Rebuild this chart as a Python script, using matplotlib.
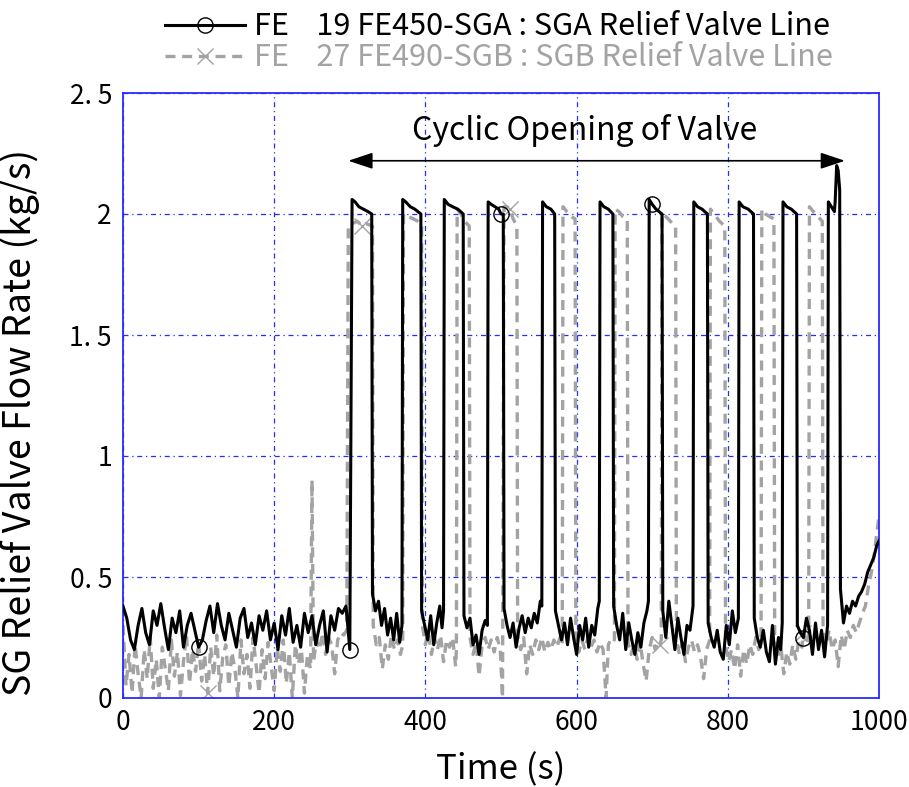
import numpy as np
import matplotlib
matplotlib.use("Agg")
import matplotlib.pyplot as plt

plt.rcParams['font.family'] = ['Noto Sans CJK JP', 'DejaVu Sans']

# FE 19 FE450-SGA (black solid, open circles)
sga_t = [0, 5, 10, 15, 20, 25, 30, 35, 40, 45, 50, 55, 60, 65, 70, 75, 80, 85, 90, 95,
         100, 105, 110, 115, 120, 125, 130, 135, 140, 145, 150, 155, 160, 165, 170, 175, 180, 185, 190, 195,
         200, 205, 210, 215, 220, 225, 230, 235, 240, 245, 250, 255, 260, 265, 270, 275, 280, 285, 290, 295,
         300, 303, 307, 312, 318, 324, 329,
         330, 334, 338, 342, 346, 350, 354, 358, 362, 366, 369,
         370, 374, 380, 386, 394,
         395, 399, 403, 407, 411, 415, 419, 422, 424,
         425, 430, 436, 443, 450,
         451, 455, 459, 463, 467, 471, 475, 479, 482,
         483, 487, 492, 497, 500, 503,
         504, 508, 512, 516, 520, 524, 528, 532, 536, 540, 544, 548, 552, 554,
         555, 560, 566, 571,
         572, 576, 580, 584, 588, 592, 596, 600, 604, 608, 612, 616, 620, 624, 628, 630,
         631, 636, 642, 648,
         649, 653, 657, 661, 665, 669, 673, 677, 681, 685, 689, 693, 695,
         696, 700, 705, 709, 713,
         714, 718, 722, 726, 730, 734, 738, 742, 746, 750, 754,
         755, 760, 766, 773,
         774, 778, 782, 786, 790, 794, 798, 802, 806, 810, 814,
         815, 820, 827, 834,
         835, 839, 843, 847, 851, 855, 859, 863, 867, 870, 872,
         873, 878, 884, 891,
         892, 896, 900, 904, 908, 912, 916, 920, 924, 928, 932,
         933, 937, 941, 942, 944, 946, 948,
         949, 953, 957, 961, 965, 969, 973, 977, 981, 985, 989, 993, 997, 1000]
sga_v = [0.38, 0.33, 0.24, 0.20, 0.30, 0.37, 0.27, 0.22, 0.36, 0.30, 0.39, 0.29, 0.20, 0.33, 0.27, 0.36, 0.21, 0.30, 0.35, 0.28,
         0.21, 0.24, 0.32, 0.38, 0.27, 0.39, 0.30, 0.24, 0.35, 0.28, 0.21, 0.33, 0.37, 0.25, 0.31, 0.22, 0.34, 0.28, 0.36, 0.24,
         0.31, 0.20, 0.34, 0.26, 0.37, 0.23, 0.30, 0.21, 0.35, 0.27, 0.34, 0.22, 0.30, 0.36, 0.19, 0.34, 0.28, 0.37, 0.35, 0.38,
         0.20, 2.06, 2.05, 2.03, 2.02, 2.01, 2.00,
         0.43, 0.36, 0.40, 0.30, 0.37, 0.26, 0.33, 0.24, 0.35, 0.23, 0.30,
         2.06, 2.05, 2.03, 2.02, 2.00,
         0.36, 0.30, 0.24, 0.34, 0.22, 0.31, 0.38, 0.29, 0.36,
         2.06, 2.04, 2.03, 2.02, 2.00,
         0.34, 0.29, 0.33, 0.22, 0.26, 0.18, 0.28, 0.32, 0.30,
         2.05, 2.04, 2.03, 2.02, 2.00, 2.00,
         0.37, 0.30, 0.25, 0.31, 0.21, 0.29, 0.34, 0.27, 0.33, 0.29, 0.35, 0.31, 0.40, 0.38,
         2.05, 2.03, 2.02, 2.00,
         0.36, 0.30, 0.24, 0.31, 0.22, 0.33, 0.25, 0.18, 0.30, 0.24, 0.33, 0.21, 0.30, 0.26, 0.37, 0.40,
         2.05, 2.03, 2.02, 2.00,
         0.38, 0.30, 0.24, 0.35, 0.20, 0.31, 0.24, 0.18, 0.27, 0.21, 0.31, 0.36, 0.40,
         2.06, 2.04, 2.02, 2.01, 2.00,
         0.36, 0.25, 0.40, 0.30, 0.20, 0.33, 0.25, 0.18, 0.30, 0.28, 0.38,
         2.05, 2.03, 2.02, 2.00,
         0.31, 0.25, 0.21, 0.28, 0.19, 0.16, 0.30, 0.22, 0.36, 0.27, 0.33,
         2.05, 2.03, 2.02, 2.00,
         0.33, 0.25, 0.21, 0.28, 0.19, 0.15, 0.30, 0.14, 0.25, 0.20, 0.31,
         2.05, 2.03, 2.02, 2.00,
         0.30, 0.27, 0.25, 0.33, 0.28, 0.18, 0.31, 0.20, 0.28, 0.17, 0.30,
         2.05, 2.03, 2.01, 2.05, 2.20, 2.18, 2.10,
         0.45, 0.31, 0.38, 0.35, 0.40, 0.38, 0.42, 0.44, 0.47, 0.52, 0.55, 0.58, 0.63, 0.65]
sga_mark_t = [100, 300, 500, 700, 900]

# FE 27 FE490-SGB (gray dashed, x markers)
sgb_t = [0, 4, 8, 12, 16, 20, 24, 28, 32, 36, 40, 44, 48, 52, 56, 60, 64, 68, 72, 76,
         80, 84, 88, 92, 96, 100, 104, 108, 112, 116, 120, 124, 128, 132, 136, 140, 144, 148, 152, 156,
         160, 164, 168, 172, 176, 180, 184, 188, 192, 196, 200, 204, 208, 212, 216, 220, 224, 228, 232, 236,
         240, 244, 248, 250, 252, 256, 260, 264, 268, 272, 276, 280, 284, 288, 292, 296,
         298, 303, 310, 316, 322, 330,
         331, 335, 339, 343, 347, 351, 355, 359, 363, 367, 370,
         371, 377, 384, 390, 395,
         396, 400, 404, 408, 412, 416, 420, 424, 428, 432, 436, 440, 441,
         442, 447, 452, 458,
         459, 463, 467, 471, 475, 479, 483, 487, 491, 495, 499, 502,
         504, 508, 512, 516, 521,
         522, 526, 530, 534, 538, 542, 546, 550, 554, 558, 562, 566, 570, 574, 578, 581,
         582, 587, 592, 598,
         599, 603, 607, 611, 615, 619, 623, 627, 631, 635, 639, 642, 646, 650,
         651, 656, 661, 667,
         668, 672, 676, 680, 684, 688, 692, 696, 700, 704, 708, 710, 712,
         713, 718, 724, 731,
         732, 736, 740, 744, 748, 752, 756, 760, 764, 768, 772, 776,
         777, 782, 789, 796,
         797, 801, 805, 809, 813, 817, 821, 825, 829, 833, 837, 841, 844,
         845, 850, 855, 861,
         862, 866, 870, 874, 878, 882, 886, 890, 894, 898, 900, 904, 907,
         908, 913, 919, 925,
         926, 930, 934, 938, 942, 946, 950, 954, 958, 962, 966, 970, 974, 978, 982, 986, 990, 994, 997, 1000]
sgb_v = [0.30, 0.05, 0.18, 0.02, 0.22, 0.10, 0.00, 0.20, 0.08, 0.25, 0.04, 0.16, 0.00, 0.21, 0.12, 0.03, 0.24, 0.09, 0.19, 0.01,
         0.15, 0.26, 0.06, 0.20, 0.11, 0.23, 0.07, 0.18, 0.02, 0.21, 0.09, 0.26, 0.03, 0.17, 0.22, 0.05, 0.19, 0.12, 0.00, 0.24,
         0.10, 0.18, 0.04, 0.25, 0.14, 0.02, 0.20, 0.08, 0.23, 0.13, 0.03, 0.21, 0.11, 0.24, 0.06, 0.19, 0.00, 0.22, 0.14, 0.20,
         0.02, 0.18, 0.12, 0.90, 0.15, 0.24, 0.20, 0.27, 0.18, 0.25, 0.22, 0.10, 0.24, 0.27, 0.26, 0.28,
         1.95, 1.96, 1.97, 1.95, 1.96, 1.95,
         0.30, 0.22, 0.25, 0.12, 0.22, 0.16, 0.26, 0.20, 0.24, 0.18, 0.22,
         2.00, 1.99, 1.98, 1.97, 1.96,
         0.30, 0.22, 0.27, 0.18, 0.25, 0.20, 0.26, 0.15, 0.24, 0.21, 0.25, 0.13, 0.20,
         2.02, 2.00, 1.97, 1.95,
         0.25, 0.18, 0.23, 0.09, 0.22, 0.25, 0.20, 0.24, 0.19, 0.25, 0.20, 0.00,
         2.03, 2.03, 2.02, 1.98, 1.95,
         0.26, 0.20, 0.25, 0.10, 0.22, 0.18, 0.24, 0.20, 0.25, 0.19, 0.23, 0.20, 0.24, 0.21, 0.25, 0.22,
         2.03, 2.01, 1.99, 1.98,
         0.24, 0.19, 0.24, 0.20, 0.25, 0.21, 0.24, 0.19, 0.23, 0.20, 0.00, 0.22, 0.25, 0.24,
         2.02, 2.01, 1.99, 1.98,
         0.23, 0.18, 0.22, 0.16, 0.23, 0.14, 0.07, 0.20, 0.25, 0.20, 0.23, 0.22, 0.24,
         2.00, 1.99, 1.97, 1.95,
         0.24, 0.18, 0.23, 0.15, 0.21, 0.24, 0.19, 0.22, 0.17, 0.08, 0.20, 0.24,
         2.02, 2.00, 1.97, 1.95,
         0.22, 0.15, 0.20, 0.12, 0.22, 0.09, 0.20, 0.14, 0.22, 0.18, 0.25, 0.20, 0.24,
         2.02, 2.00, 1.99, 1.98,
         0.24, 0.17, 0.22, 0.10, 0.19, 0.14, 0.22, 0.16, 0.24, 0.21, 0.27, 0.22, 0.25,
         2.03, 2.01, 1.99, 1.97,
         0.27, 0.22, 0.28, 0.20, 0.24, 0.13, 0.26, 0.20, 0.28, 0.25, 0.30, 0.27, 0.31, 0.35, 0.38, 0.46, 0.52, 0.60, 0.68, 0.75]
sgb_mark_t = [112, 316, 512, 710, 900]

labels = ['FE    19 FE450-SGA : SGA Relief Valve Line',
          'FE    27 FE490-SGB : SGB Relief Valve Line']
x_ticks = [0, 200, 400, 600, 800, 1000]
y_ticks = [0, 0.5, 1, 1.5, 2, 2.5]
y_tick_labels = ['0', '0. 5', '1', '1. 5', '2', '2. 5']

gray = '#a3a3a3'
blue = '#2a2aff'

fig = plt.figure(figsize=(9.09, 7.87), dpi=100)
ax = fig.add_axes([123 / 909, 89 / 787, 756 / 909, 605 / 787])

ax.plot(sga_t, sga_v, color='black', lw=2.2, marker='o', markersize=11,
        markerfacecolor='none', markeredgecolor='black', markeredgewidth=1.0,
        markevery=[sga_t.index(m) for m in sga_mark_t], label=labels[0], zorder=3)
ax.plot(sgb_t, sgb_v, color=gray, lw=2.4, linestyle=(0, (3, 2)), marker='x', markersize=11,
        markeredgewidth=1.0, markevery=[sgb_t.index(m) for m in sgb_mark_t],
        label=labels[1], zorder=2)

ax.set_xlim(0, 1000)
ax.set_ylim(0, 2.5)
ax.set_xticks(x_ticks)
ax.set_yticks(y_ticks)
ax.set_yticklabels(y_tick_labels)
ax.tick_params(length=0, labelsize=19, pad=8)
ax.grid(True, color=blue, linestyle=(0, (4, 3, 1, 3)), lw=0.9)
for s in ax.spines.values():
    s.set_color(blue)
    s.set_linewidth(1.3)

ax.set_xlabel('Time (s)', fontsize=25, labelpad=12)
ax.set_ylabel('SG Relief Valve Flow Rate (kg/s)', fontsize=27)
ax.yaxis.set_label_coords(-0.11, 0.456)

# cyclic opening annotation
ax.annotate('', xy=(955, 2.22), xytext=(298, 2.22),
            arrowprops=dict(arrowstyle='<|-|>,head_length=1.5,head_width=0.5',
                            color='black', lw=1.2, shrinkA=0, shrinkB=0))
ax.text(610, 2.345, 'Cyclic Opening of Valve', ha='center', va='center', fontsize=23)

fig.legend(loc='upper left', bbox_to_anchor=(150 / 909, 1.005), frameon=False,
           handlelength=2.6, handletextpad=0.3, labelspacing=0.0, borderaxespad=0.1,
           fontsize=22, labelcolor='linecolor')

fig.savefig('out.png', dpi=100)
